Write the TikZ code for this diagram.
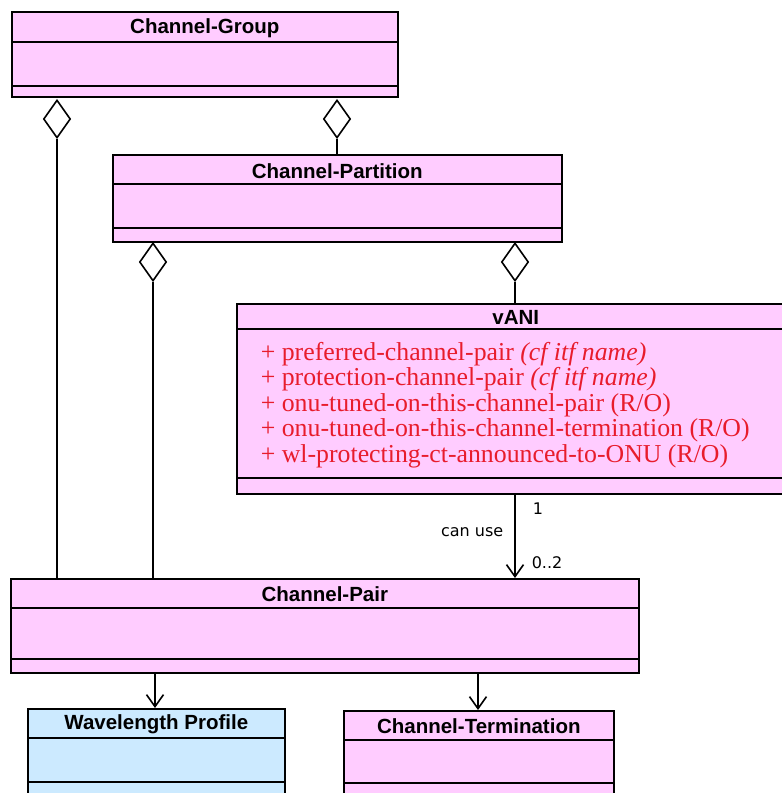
\documentclass[tikz,border=0pt]{standalone}
\usepackage{fontspec}
\setmainfont{Liberation Serif}
\setsansfont{Liberation Sans}
\newfontfamily\labelfont{DejaVu Sans}
\usetikzlibrary{arrows.meta,shapes.geometric,positioning}
\definecolor{classpink}{RGB}{255,204,255}
\definecolor{classblue}{RGB}{204,234,255}
\definecolor{attrred}{RGB}{232,28,44}
\tikzset{
  umlbox/.style={draw,fill=classpink,anchor=north west,inner sep=0pt},
  umlname/.style={inner sep=0pt,font=\sffamily\bfseries\fontsize{20.5}{24}\selectfont},
  attr/.style={inner sep=0pt,anchor=base west,text=attrred,font=\fontsize{25.8}{28}\selectfont},
  aggr/.style={diamond,draw,fill=white,minimum width=27,minimum height=38,inner sep=0pt},
  nav/.style={-{Straight Barb[length=12pt,width=17pt]}},
  mult/.style={inner sep=0pt,font=\labelfont\fontsize{16}{19}\selectfont}
}
\begin{document}
\begin{tikzpicture}[x=1pt,y=-1pt,line width=1.6pt]
\useasboundingbox (0,0) rectangle (782,793);
\clip (0,0) rectangle (782,793);
% Channel-Group
\node[umlbox,minimum width=386,minimum height=85] (group) at (11,11) {};
\node[umlname,minimum height=33,below=0pt of group.north] (groupname) {Channel-Group};
\draw (group.west |- 0,42) -- (group.east |- 0,42);
\draw (group.west |- 0,86) -- (group.east |- 0,86);
% Channel-Partition
\node[umlbox,minimum width=449,minimum height=87] (part) at (112,154) {};
\node[umlname,minimum height=32,below=0pt of part.north] (partname) {Channel-Partition};
\draw (part.west |- 0,184) -- (part.east |- 0,184);
\draw (part.west |- 0,228) -- (part.east |- 0,228);
% vANI
\node[umlbox,minimum width=558,minimum height=190] (vani) at (236,303) {};
\node[umlname,minimum height=28,below=0pt of vani.north] (vaniname) {vANI};
\draw (vani.west |- 0,329) -- (vani.east |- 0,329);
\draw (vani.west |- 0,478) -- (vani.east |- 0,478);
\foreach \txt [count=\i] in {{+ preferred-channel-pair \textit{(cf itf name)}},
    {+ protection-channel-pair \textit{(cf itf name)}},
    {+ onu-tuned-on-this-channel-pair (R/O)},
    {+ onu-tuned-on-this-channel-termination (R/O)},
    {+ wl-protecting-ct-announced-to-ONU (R/O)}}
  \node[attr] (attr\i) at (260,{360+25.5*(\i-1)}) {\txt};
% Channel-Pair
\node[umlbox,minimum width=628,minimum height=94] (pair) at (10,578) {};
\node[umlname,minimum height=31,below=0pt of pair.north] (pairname) {Channel-Pair};
\draw (pair.west |- 0,608) -- (pair.east |- 0,608);
\draw (pair.west |- 0,659) -- (pair.east |- 0,659);
% Wavelength Profile
\node[umlbox,fill=classblue,minimum width=257,minimum height=100] (wave) at (27,708) {};
\node[umlname,minimum height=31,below=0pt of wave.north] (wavename) {Wavelength Profile};
\draw (wave.west |- 0,738) -- (wave.east |- 0,738);
\draw (wave.west |- 0,782) -- (wave.east |- 0,782);
% Channel-Termination
\node[umlbox,minimum width=270,minimum height=100] (term) at (343,710) {};
\node[umlname,minimum height=31,below=0pt of term.north] (termname) {Channel-Termination};
\draw (term.west |- 0,740) -- (term.east |- 0,740);
\draw (term.west |- 0,783) -- (term.east |- 0,783);
% aggregations
\node[aggr] (grouppair) at (57,119) {};
\node[aggr] (grouppart) at (337,119) {};
\node[aggr] (partpair) at (153,262) {};
\node[aggr] (partvani) at (515,262) {};
\draw (grouppair.south) -- (grouppair.south |- pair.north);
\draw (grouppart.south) -- (grouppart.south |- part.north);
\draw (partpair.south) -- (partpair.south |- pair.north);
\draw (partvani.south) -- (partvani.south |- vani.north);
% associations
\draw[nav] (vani.south -| partvani.south) -- (pair.north -| partvani.south);
\node[mult,anchor=west] (one) at (532,509) {1};
\node[mult,anchor=east] (canuse) at (504,532) {can use};
\node[mult,anchor=west] (zerotwo) at (531,563) {0..2};
\draw[nav] (pair.south -| 155,0) -- (wave.north -| 155,0);
\draw[nav] (pair.south -| 478,0) -- (term.north -| 478,0);
\end{tikzpicture}
\end{document}
